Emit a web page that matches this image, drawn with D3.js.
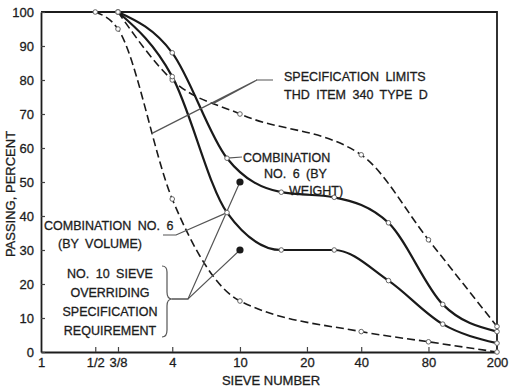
<!DOCTYPE html>
<html>
<head>
<meta charset="utf-8">
<script src="https://cdn.jsdelivr.net/npm/d3@7"></script>
<style>
  body { margin: 0; background: #fff; }
  text { font-family: "Liberation Sans", Arial, sans-serif; fill: #1c1c1c; stroke: #1c1c1c; stroke-width: 0.3px; }
</style>
</head>
<body>
<svg id="chart"></svg>
<script>
// sieve openings in mm, used to place everything on a log axis
const sieveMm = { "1": 25.4, "1/2": 12.7, "3/8": 9.5, "4": 4.75, "8": 2.36, "10": 2.0,
  "16": 1.18, "20": 0.85, "30": 0.6, "40": 0.425, "50": 0.3, "80": 0.18, "100": 0.15, "200": 0.075 };

// tick labels on the x axis
const tickSieves = ["1", "1/2", "3/8", "4", "10", "20", "40", "80", "200"];
const percentTicks = [0, 10, 20, 30, 40, 50, 60, 70, 80, 90, 100];

// combination no. 6 gradations
const comboSieves = ["3/8", "4", "8", "16", "30", "50", "100", "200"];
const byWeight = [100, 88, 57, 47, 45.5, 38, 14, 6];
const byVolume = [100, 81, 41, 30, 30, 21, 8.2, 2.6];

// THD item 340 type D specification limits
const upperSieves = ["3/8", "4", "10", "40", "80", "200"];
const upperLimit = [100, 80, 70, 58, 33, 7.5];
const lowerSieves = ["1/2", "3/8", "4", "10", "40", "80", "200"];
const lowerLimit = [100, 95, 45, 15, 6, 3, 0];

// no. 10 sieve overriding points
const overrideSieve = "10";
const overrideValues = [50, 30];

const W = 520, H = 390;
const svg = d3.select("#chart").attr("width", W).attr("height", H);

const x = d3.scaleLog().domain([25.4, 0.075]).range([41, 497]);
const y = d3.scaleLinear().domain([0, 100]).range([352, 12]);

// frame (top + right)
svg.append("path")
  .attr("d", `M${x(25.4)},${y(100)}H${x(0.075)}V${y(0)}`)
  .attr("fill", "none").attr("stroke", "#1c1c1c").attr("stroke-width", 1.8);

// axes
const xAxis = svg.append("g")
  .attr("transform", `translate(0,${y(0)})`)
  .call(d3.axisBottom(x)
    .tickValues(tickSieves.map(s => sieveMm[s]))
    .tickFormat((d, i) => tickSieves[i])
    .tickSizeInner(-5).tickSizeOuter(0).tickPadding(6));

const yAxis = svg.append("g")
  .attr("transform", `translate(${x(25.4)},0)`)
  .call(d3.axisLeft(y).tickValues(percentTicks).tickSizeInner(-4).tickSizeOuter(0).tickPadding(7));

[xAxis, yAxis].forEach(g => {
  g.select(".domain").attr("stroke", "#1c1c1c").attr("stroke-width", 1.8);
  g.selectAll(".tick line").attr("stroke", "#444").attr("stroke-width", 1.2);
  g.selectAll(".tick text").attr("font-size", 13).attr("font-family", "Liberation Sans, Arial, sans-serif").attr("fill", "#1c1c1c");
});
xAxis.selectAll(".tick").filter((d, i) => i === 0 || i === tickSieves.length - 1).select("line").remove();

// axis titles
svg.append("text")
  .attr("transform", `translate(15,194) rotate(-90)`)
  .attr("text-anchor", "middle").attr("font-size", 13)
  .text("PASSING, PERCENT");
svg.append("text")
  .attr("x", 271).attr("y", 385)
  .attr("text-anchor", "middle").attr("font-size", 13)
  .text("SIEVE NUMBER");

// curves
const line = d3.line()
  .x(d => x(sieveMm[d[0]]))
  .y(d => y(d[1]))
  .curve(d3.curveMonotoneX);

const series = [
  { sieves: upperSieves, values: upperLimit, dashed: true },
  { sieves: lowerSieves, values: lowerLimit, dashed: true },
  { sieves: comboSieves, values: byWeight, dashed: false },
  { sieves: comboSieves, values: byVolume, dashed: false }
];

const paths = series.map(s => {
  const pts = s.sieves.map((k, i) => [k, s.values[i]]);
  return svg.append("path")
    .datum(pts)
    .attr("d", line)
    .attr("fill", "none")
    .attr("stroke", "#1a1a1a")
    .attr("stroke-width", s.dashed ? 1.6 : 2.2)
    .attr("stroke-dasharray", s.dashed ? "8,4" : null);
});

// leader lines
function pointAtX(node, px) {
  let lo = 0, hi = node.getTotalLength();
  for (let k = 0; k < 30; k++) {
    const mid = (lo + hi) / 2;
    if (node.getPointAtLength(mid).x < px) lo = mid; else hi = mid;
  }
  return node.getPointAtLength(hi);
}

const leader = svg.append("g")
  .attr("fill", "none").attr("stroke", "#555").attr("stroke-width", 1.2);

// spec limits leaders
const upPt = pointAtX(paths[0].node(), 213);
const loPt = pointAtX(paths[1].node(), 152);
leader.append("path").attr("d", `M${loPt.x},${loPt.y}L257,80L273,80M${upPt.x},${upPt.y}L257,80`);

// combination by weight leader
const w8 = [x(sieveMm["8"]), y(byWeight[2])];
leader.append("path").attr("d", `M${w8[0]},${w8[1]}L242,157`);

// combination by volume leader
const v8 = [x(sieveMm["8"]), y(byVolume[2])];
leader.append("path").attr("d", `M163,235L176,235L${v8[0]},${v8[1]}`);

// no. 10 sieve leaders + brace
const ox = x(sieveMm[overrideSieve]);
overrideValues.forEach(v => {
  leader.append("path").attr("d", `M172,299L188,299L${ox},${y(v)}`);
});
leader.append("path")
  .attr("d", "M162,266Q167,266 167,272V292Q167,299 172,299Q167,299 167,306V330Q167,337 162,337");

// data point circles
series.forEach(s => {
  svg.append("g").selectAll("circle")
    .data(s.sieves.map((k, i) => [k, s.values[i]]))
    .join("circle")
    .attr("cx", d => x(sieveMm[d[0]]))
    .attr("cy", d => y(d[1]))
    .attr("r", 2.3)
    .attr("fill", "#fff")
    .attr("stroke", "#666")
    .attr("stroke-width", 1);
});

// filled override dots
svg.append("g").selectAll("circle")
  .data(overrideValues)
  .join("circle")
  .attr("cx", ox)
  .attr("cy", d => y(d))
  .attr("r", 3.6)
  .attr("fill", "#1a1a1a");

// annotation text
function label(lines, anchor) {
  lines.forEach(l => {
    svg.append("text")
      .attr("x", l[0]).attr("y", l[1])
      .attr("text-anchor", anchor)
      .attr("font-size", 12.5)
      .attr("word-spacing", 3)
      .text(l[2]);
  });
}

label([[284, 81, "SPECIFICATION LIMITS"], [284, 99, "THD ITEM 340 TYPE D"]], "start");
label([[243, 162, "COMBINATION"], [264, 178, "NO. 6 (BY"], [289, 195, "WEIGHT)"]], "start");
label([[44, 230, "COMBINATION NO. 6"], [58, 248, "(BY VOLUME)"]], "start");
label([[110, 278, "NO. 10 SIEVE"], [110, 297, "OVERRIDING"], [110, 316, "SPECIFICATION"], [110, 335, "REQUIREMENT"]], "middle");
</script>
</body>
</html>
